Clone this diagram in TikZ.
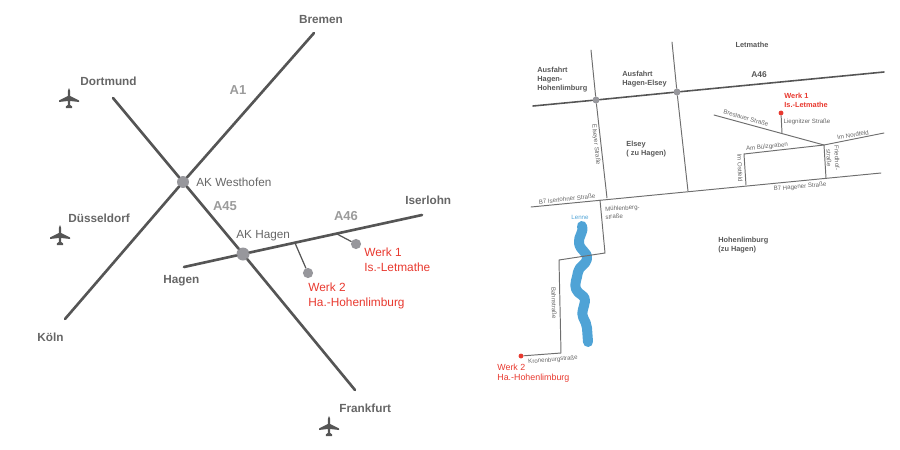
\documentclass[tikz,border=0pt]{standalone}
\usepackage{fontspec}
\setmainfont{Liberation Sans}
\definecolor{roadgray}{HTML}{555555}
\definecolor{textgray}{HTML}{666666}
\definecolor{dotgray}{HTML}{97979C}
\definecolor{autobahn}{HTML}{9B9B9B}
\definecolor{werkred}{HTML}{E8392F}
\definecolor{lenneblue}{HTML}{4FA3D6}

\begin{document}
\begin{tikzpicture}[
            x = 0.02cm, % one reference pixel
            y = -0.02cm,
            line cap = round,
            plane/.pic = {
                \fill[roadgray] (-1.2,-7) -- (0,-10) -- (1.2,-7) -- (1.2,7) -- (3.2,8.5) -- (3.2,10) -- (-3.2,10) -- (-3.2,8.5) -- (-1.2,7) -- cycle;
                \fill[roadgray] (-1.2,-2) -- (1.2,-2) -- (10,2.5) -- (10,4) -- (1.2,3) -- (-1.2,3) -- (-10,4) -- (-10,2.5) -- cycle;
            }
        ]

        \tikzstyle{road}=[draw = roadgray, line width = 1.5pt]
        \tikzstyle{street}=[draw = roadgray!85, line width = 0.55pt]
        \tikzstyle{junction}=[circle, fill = dotgray, inner sep = 0pt]
        \tikzstyle{bigcity}=[text = textgray, font = \fontsize{6.7}{8.5}\selectfont\bfseries, inner sep = 0pt]
        \tikzstyle{autobahnname}=[text = autobahn, font = \fontsize{7.4}{9}\selectfont\bfseries, inner sep = 0pt]
        \tikzstyle{crossname}=[text = textgray, font = \fontsize{6.7}{8.5}\selectfont, anchor = west, inner sep = 0pt]
        \tikzstyle{werkname}=[text = werkred, font = \fontsize{6.75}{8.5}\selectfont, align = left, anchor = west, inner sep = 0pt]
        \tikzstyle{placename}=[text = textgray!85!black, font = \fontsize{4.2}{5.1}\selectfont\bfseries, align = left, anchor = west, inner sep = 0pt]
        \tikzstyle{streetname}=[text = textgray, font = \fontsize{3.5}{4.6}\selectfont, inner sep = 0pt]

        \useasboundingbox (0,0) rectangle (900,450);

        % overview map
        \coordinate (koeln end) at (65,319);
        \coordinate (bremen end) at (314,33);
        \coordinate (dortmund end) at (113,98);
        \coordinate (frankfurt end) at (355,390);
        \coordinate (hagen end) at (184,267);
        \coordinate (iserlohn end) at (422,215);
        \coordinate (werk1 stub) at (337,234);
        \coordinate (werk2 stub) at (295,243);

        \node[junction, minimum size = 6.8pt] (westhofen) at (183,182) {};
        \node[junction, minimum size = 7.4pt] (akhagen) at (243,254) {};
        \node[junction, minimum size = 5.8pt] (werk1 dot) at (356,244) {};
        \node[junction, minimum size = 5.8pt] (werk2 dot) at (308,273) {};

        \path[road] (koeln end) -- (westhofen);
        \path[road] (westhofen) -- (bremen end);
        \path[road] (dortmund end) -- (westhofen);
        \path[road] (westhofen) -- (akhagen);
        \path[road] (akhagen) -- (frankfurt end);
        \path[road] (hagen end) -- (akhagen);
        \path[road] (akhagen) -- (iserlohn end);
        \draw[roadgray, line width = 0.7pt] (werk1 stub) -- (werk1 dot);
        \draw[roadgray, line width = 0.7pt] (werk2 stub) -- (werk2 dot);

        \node[bigcity] (bremen) at (321,20) {Bremen};
        \node[bigcity, anchor = west] (dortmund) at (80,81) {Dortmund};
        \node[bigcity, anchor = west] (duesseldorf) at (68,218) {Düsseldorf};
        \node[bigcity, anchor = west] (koeln) at (37,337) {Köln};
        \node[bigcity, anchor = west] (frankfurt) at (339,408) {Frankfurt};
        \node[bigcity, anchor = west] (hagen) at (163,281) {Hagen};
        \node[bigcity, anchor = west] (iserlohn) at (405,200) {Iserlohn};

        \node[autobahnname] (a1) at (238,90) {A1};
        \node[autobahnname] (a45) at (225,206) {A45};
        \node[autobahnname] (a46) at (346,216) {A46};

        \node[crossname] (westhofen name) at (196,182) {AK Westhofen};
        \node[crossname] (akhagen name) at (236,236) {AK Hagen};
        \node[werkname] (werk1 name) at (364,259.5) {Werk 1\\Is.-Letmathe};
        \node[werkname] (werk2 name) at (308,295.5) {Werk 2\\Ha.-Hohenlimburg};

        \pic at (69,98) {plane};
        \pic at (60,235) {plane};
        \pic at (329,426) {plane};

        % detail map
        \draw[lenneblue, line width = 5.7pt, line join = round] (582,226)
            .. controls (584,233) and (578,236) .. (579,243)
            .. controls (580,251) and (589,253) .. (587,259)
            .. controls (586,265) and (579,266) .. (578,272)
            .. controls (577,279) and (574,284) .. (576,289)
            .. controls (578,295) and (586,295) .. (585,301)
            .. controls (584,308) and (581,312) .. (583,317)
            .. controls (585,322) and (587,324) .. (587,328)
            -- (588,342);

        \coordinate (a46 west) at (533,106);
        \coordinate (a46 east) at (884,72);
        \coordinate (elseyer north) at (591,50);
        \coordinate (elseyer south) at (607,198);
        \coordinate (elsey north) at (672,42);
        \coordinate (elsey south) at (688,191);
        \coordinate (b7 west) at (531,207);
        \coordinate (b7 east) at (881,173);
        \coordinate (muehlen north) at (600,200);
        \coordinate (muehlen bend) at (605,253);
        \coordinate (bahn north) at (559,260);
        \coordinate (bahn south) at (561,353);
        \coordinate (breslauer west) at (714,115);
        \coordinate (knot) at (824,145);
        \coordinate (nordfeld east) at (884,133);
        \coordinate (buelz bend) at (744,154);
        \coordinate (ostfeld south) at (746,185);
        \coordinate (friedhof south) at (826,178);
        \coordinate (liegnitz south) at (782,133);

        \node[junction, minimum size = 4pt] (exit hohenlimburg) at (596,100) {};
        \node[junction, minimum size = 4pt] (exit elsey) at (677,92) {};
        \node[circle, fill = werkred, inner sep = 0pt, minimum size = 2.8pt] (werk1 pin) at (781,113) {};
        \node[circle, fill = werkred, inner sep = 0pt, minimum size = 2.8pt] (werk2 pin) at (521,356) {};

        \draw[roadgray, line width = 0.9pt] (a46 west) -- (exit hohenlimburg) -- (exit elsey) -- (a46 east);
        \path[street] (elseyer north) -- (exit hohenlimburg) -- (elseyer south);
        \path[street] (elsey north) -- (exit elsey) -- (elsey south);
        \path[street] (b7 west) -- (b7 east);
        \path[street] (muehlen north) -- (muehlen bend) -- (bahn north) -- (bahn south) -- (werk2 pin);
        \path[street] (breslauer west) -- (knot) -- (nordfeld east);
        \path[street] (knot) -- (buelz bend) -- (ostfeld south);
        \path[street] (knot) -- (friedhof south);
        \path[street] (werk1 pin) -- (liegnitz south);

        \node[placename] (ausfahrt west) at (537,80) {Ausfahrt\\Hagen-\\Hohenlimburg};
        \node[placename] (ausfahrt elsey) at (622,79.5) {Ausfahrt\\Hagen-Elsey};
        \node[placename] (elsey) at (626,149.5) {Elsey\\( zu Hagen)};
        \node[placename, anchor = center] (letmathe) at (752,45) {Letmathe};
        \node[placename, anchor = center, font = \fontsize{4.8}{6}\selectfont\bfseries] (a46 detail) at (759,75) {A46};
        \node[placename] (hohenlimburg) at (718,245.5) {Hohenlimburg\\(zu Hagen)};

        \node[placename, text = werkred] (werk1 detail) at (784,100.5) {Werk 1\\Is.-Letmathe};
        \node[text = werkred, font = \fontsize{5.05}{5.6}\selectfont, align = left, anchor = west, inner sep = 0pt] (werk2 detail) at (497,373) {Werk 2\\Ha.-Hohenlimburg};
        \node[streetname, text = lenneblue] (lenne) at (580,217) {Lenne};

        \node[streetname, rotate = -84] (elseyer name) at (596,145) {Elseyer Straße};
        \node[streetname, rotate = 6] (b7 iserlohn) at (567,199) {B7 Iserlohner Straße};
        \node[streetname, rotate = 5] (b7 hagen) at (800,187) {B7 Hagener Straße};
        \node[streetname, rotate = -16] (breslauer) at (746,118) {Breslauer Straße};
        \node[streetname] (liegnitzer) at (807,122) {Liegnitzer Straße};
        \node[streetname, rotate = 6] (buelzgraben) at (767,147) {Am Bülzgraben};
        \node[streetname, rotate = 10] (nordfeld) at (853,135) {Im Nordfeld};
        \node[streetname, rotate = -88] (ostfeld) at (740,168) {Im Ostfeld};
        \node[streetname, rotate = -88, align = center] (friedhof) at (833,158) {Friedhof-\\straße};
        \node[streetname, rotate = 3, align = left, anchor = west] (muehlenberg) at (605,213) {Mühlenberg-\\straße};
        \node[streetname, rotate = -88] (bahnstrasse) at (554,303) {Bahnstraße};
        \node[streetname, rotate = 5] (kronenburg) at (553,360) {Kronenburgstraße};

    \end{tikzpicture}
\end{document}
